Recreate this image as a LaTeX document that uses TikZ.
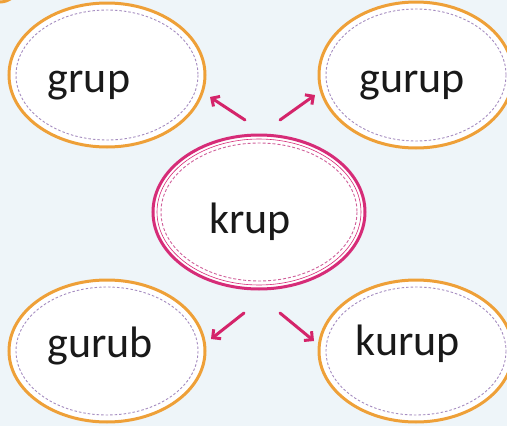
\documentclass[tikz,border=0pt]{standalone}
\usepackage{fontspec}
\setmainfont{Carlito}
\usetikzlibrary{shapes.geometric,arrows.meta}
\definecolor{bgc}{HTML}{EEF5F9}
\definecolor{orng}{HTML}{EEA038}
\definecolor{mag}{HTML}{D62C78}
\definecolor{arr}{HTML}{D4246A}
\definecolor{dashc}{HTML}{A58CC0}
\definecolor{dashm}{HTML}{D0609A}
\tikzset{
  oval/.style={ellipse, draw=orng, line width=3pt, fill=white, inner sep=0pt},
  ovalc/.style={ellipse, draw=mag, line width=3pt, fill=white, inner sep=0pt},
  inner/.style={draw=dashc, line width=0.9pt, dash pattern=on 2.5pt off 2pt},
  innerm/.style={draw=dashm, line width=0.9pt, dash pattern=on 3pt off 2pt},
  word/.style={anchor=base, font=\fontsize{44}{50}\selectfont, text=black!90},
  link/.style={draw=arr, line width=3pt, -{Straight Barb[length=6pt,width=12pt,line width=3pt]}, line cap=round}
}
\begin{document}
\begin{tikzpicture}[x=1pt,y=-1pt]
\fill[bgc] (0,0) rectangle (507,426);
\useasboundingbox (0,0) rectangle (507,426);
\begin{scope}
\clip (0,0) rectangle (507,426);
% cut-off ellipse in the top-left corner
\draw[orng, line width=3pt] (0,-62) ellipse (34 and 64);
% ellipses
\node[oval, minimum width=196pt, minimum height=144pt] (tl) at (107,75) {};
\node[oval, minimum width=194pt, minimum height=146pt] (tr) at (416,75) {};
\node[ovalc, minimum width=212pt, minimum height=154pt] (c) at (259,212) {};
\node[oval, minimum width=196pt, minimum height=142pt] (bl) at (107,351) {};
\node[oval, minimum width=194pt, minimum height=142pt] (br) at (416,351) {};
\draw[inner] (tl.center) ellipse (91 and 65);
\draw[inner] (tr.center) ellipse (90 and 66);
\draw[mag, line width=0.6pt] (c.center) ellipse (102 and 73);
\draw[innerm] (c.center) ellipse (98 and 69);
\draw[inner] (bl.center) ellipse (91 and 64);
\draw[inner] (br.center) ellipse (90 and 64);
\end{scope}
% words
\node[word] (wtl) at (89,92) {grup};
\node[word] (wtr) at (412,92) {gurup};
\node[word] (wc) at (250,233) {krup};
\node[word] (wbl) at (100,357) {gurub};
\node[word] (wbr) at (408,355) {kurup};
% arrows
\coordinate (a1s) at (245,120); \coordinate (a1e) at (210,97);
\coordinate (a2s) at (280,120); \coordinate (a2e) at (315,95);
\coordinate (a3s) at (244,313); \coordinate (a3e) at (211,339);
\coordinate (a4s) at (280,313); \coordinate (a4e) at (314,341);
\draw[link] (a1s) -- (a1e);
\draw[link] (a2s) -- (a2e);
\draw[link] (a3s) -- (a3e);
\draw[link] (a4s) -- (a4e);
\end{tikzpicture}
\end{document}
